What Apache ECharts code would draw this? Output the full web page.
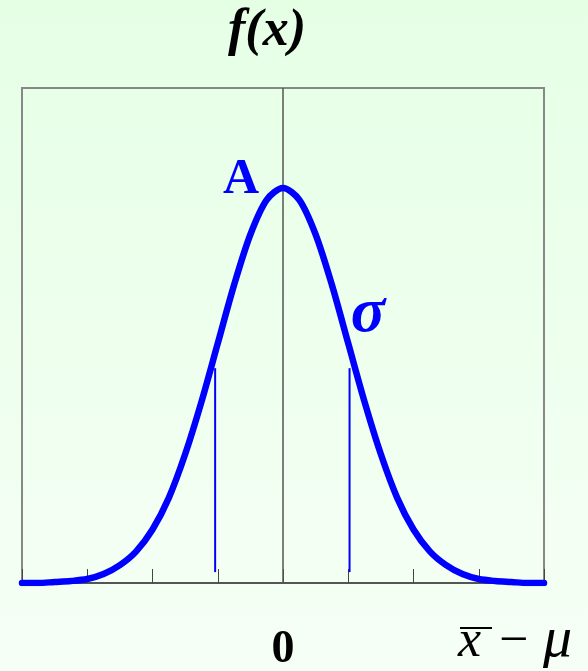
<!DOCTYPE html>
<html>
<head>
<meta charset="utf-8">
<script src="https://cdn.jsdelivr.net/npm/echarts@6/dist/echarts.min.js"></script>
<style>
  html, body { margin: 0; padding: 0; }
  #chart { width: 588px; height: 671px; }
</style>
</head>
<body>
<div id="chart"></div>
<script>
// Standardised deviation of the sample mean, in units of sigma
const xValues = [-4, -3.75, -3.5, -3.25, -3, -2.75, -2.5, -2.25, -2, -1.75, -1.5, -1.25, -1, -0.75, -0.5, -0.25,
  0, 0.25, 0.5, 0.75, 1, 1.25, 1.5, 1.75, 2, 2.25, 2.5, 2.75, 3, 3.25, 3.5, 3.75, 4];
// Density height f(x) at each x
const densityValues = [0.000, 0.000, 0.001, 0.002, 0.004, 0.009, 0.018, 0.032, 0.054, 0.086, 0.130, 0.183, 0.242, 0.301, 0.352, 0.387,
  0.399, 0.387, 0.352, 0.301, 0.242, 0.183, 0.130, 0.086, 0.054, 0.032, 0.018, 0.009, 0.004, 0.002, 0.001, 0.000, 0.000];
// Markers at minus/plus one sigma: x position, bottom and top height
const sigmaMarkX = [-1.04, 1.02];
const sigmaMarkBottom = 0.011;
const sigmaMarkTop = 0.217;
// Axis ticks and the single printed tick label
const tickValues = [-4, -3, -2, -1, 0, 1, 2, 3, 4];
const tickLabels = ['', '', '', '', '0', '', '', '', ''];

const chart = echarts.init(document.getElementById('chart'));

const curve = xValues.map((x, i) => [x, densityValues[i]]);
const serif = '"Liberation Serif", "Times New Roman", serif';

const sigmaSeries = sigmaMarkX.map(x => ({
  type: 'line',
  data: [[x, sigmaMarkBottom], [x, sigmaMarkTop]],
  symbol: 'none',
  lineStyle: { color: '#0000ff', width: 2 },
  silent: true,
  z: 3
}));

function label(text, x, y, size, color, opts) {
  return {
    type: 'text', x: x, y: y,
    style: Object.assign({
      text: text, fontFamily: serif, fontSize: size, fill: color,
      fontStyle: 'normal', fontWeight: 'normal',
      align: 'center', verticalAlign: 'middle'
    }, opts || {})
  };
}

chart.setOption({
  backgroundColor: {
    type: 'linear', x: 0, y: 0, x2: 0, y2: 1,
    colorStops: [
      { offset: 0, color: '#e5ffe5' },
      { offset: 1, color: '#f6fff6' }
    ]
  },
  animation: false,
  grid: {
    left: 22, right: 44, top: 88, bottom: 88,
    outerBoundsMode: 'none', containLabel: false,
    show: true, borderColor: '#888888', borderWidth: 2,
    backgroundColor: 'transparent'
  },
  xAxis: {
    type: 'value', min: -4, max: 4, interval: 1,
    axisLine: { show: true, lineStyle: { color: '#444444', width: 1.5 } },
    axisTick: { show: true, inside: true, length: 14, lineStyle: { color: '#444444', width: 1 } },
    splitLine: { show: false },
    axisLabel: {
      margin: 44,
      fontFamily: serif, fontWeight: 'bold', fontSize: 46, color: '#000000',
      formatter: v => tickLabels[tickValues.indexOf(v)] || ''
    }
  },
  yAxis: {
    type: 'value', min: 0, max: 0.5,
    axisLine: { show: false }, axisTick: { show: false },
    splitLine: { show: false }, axisLabel: { show: false }
  },
  series: [
    {
      type: 'line',
      data: [[0, 0], [0, 0.5]],
      symbol: 'none',
      lineStyle: { color: '#555555', width: 1.5 },
      silent: true,
      z: 1
    },
    ...sigmaSeries,
    {
      type: 'line',
      data: curve,
      smooth: 0.3,
      symbol: 'none',
      lineStyle: { color: '#0000ff', width: 6.5, cap: 'round' },
      silent: true,
      z: 4
    }
  ],
  graphic: [
    label('f(x)', 267, 32, 52, '#000000', { fontStyle: 'italic', fontWeight: 'bold' }),
    label('A', 241, 180, 50, '#0000ff', { fontWeight: 'bold' }),
    label('σ', 368, 314, 64, '#0000ff', { fontStyle: 'italic', fontWeight: 'bold' }),
    label('x', 458, 642, 52, '#000000', { fontStyle: 'italic', align: 'left' }),
    label('−', 499, 642, 52, '#000000', { align: 'left' }),
    label('μ', 543, 641, 58, '#000000', { fontStyle: 'italic', align: 'left' }),
    {
      type: 'line',
      shape: { x1: 460, y1: 628, x2: 492, y2: 628 },
      style: { stroke: '#000000', lineWidth: 2 }
    }
  ]
});
</script>
</body>
</html>
